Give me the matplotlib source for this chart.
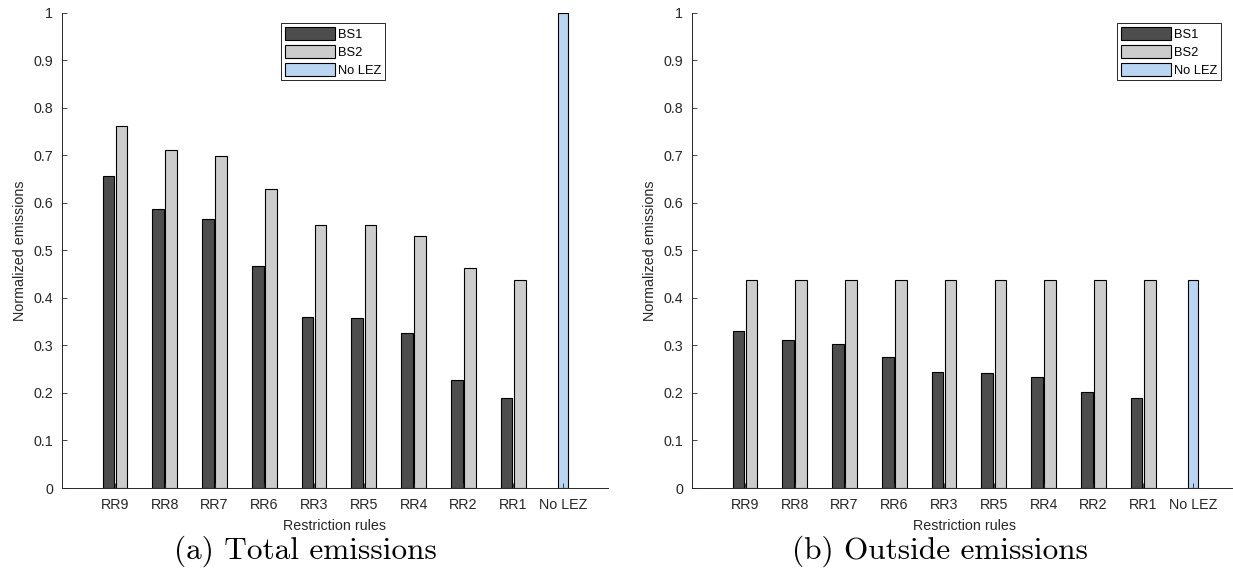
""" Normalized emissions per restriction rule, total and outside the LEZ."""
import numpy as np
import matplotlib
matplotlib.use('Agg')
import matplotlib.pyplot as plt

rules = ['RR9', 'RR8', 'RR7', 'RR6', 'RR3', 'RR5', 'RR4', 'RR2', 'RR1', 'No LEZ']

# (a) total emissions
total_bs1 = [0.657, 0.586, 0.565, 0.468, 0.360, 0.358, 0.326, 0.227, 0.190, 0.0]
total_bs2 = [0.762, 0.712, 0.698, 0.629, 0.554, 0.553, 0.530, 0.462, 0.437, 0.0]
total_nolez = [0, 0, 0, 0, 0, 0, 0, 0, 0, 1.0]

# (b) outside emissions
out_bs1 = [0.331, 0.311, 0.304, 0.276, 0.244, 0.243, 0.233, 0.202, 0.190, 0.0]
out_bs2 = [0.437, 0.437, 0.437, 0.437, 0.437, 0.437, 0.437, 0.437, 0.437, 0.0]
out_nolez = [0, 0, 0, 0, 0, 0, 0, 0, 0, 0.437]

captions = ['(a) Total emissions', '(b) Outside emissions']

C_BS1 = '#4d4d4d'
C_BS2 = '#cccccc'
C_NOLEZ = '#b9d5f2'
AX_COL = '#262626'

plt.rcParams['font.family'] = ['Liberation Sans', 'DejaVu Sans']
plt.rcParams['font.size'] = 10.3

fig = plt.figure(figsize=(12.33, 5.82), dpi=100)
W, H = 1233.0, 582.0


def draw(rect, bs1, bs2, nolez, xlim, leg_xy, caption, cap_x):
    ax = fig.add_axes(rect)
    x = np.arange(1, len(rules) + 1)
    w = 0.235
    kw = dict(edgecolor='black', linewidth=0.8)
    n = len(rules) - 1
    ax.bar(x[:n] - 0.132, bs1[:n], w, color=C_BS1, label='BS1', **kw)
    ax.bar(x[:n] + 0.132, bs2[:n], w, color=C_BS2, label='BS2', **kw)
    ax.bar(x[n:], nolez[n:], 0.2, color=C_NOLEZ, label='No LEZ', **kw)

    ax.set_xlim(*xlim)
    ax.set_ylim(0, 1)
    ax.set_yticks(np.arange(0, 1.01, 0.1))
    ax.set_yticklabels(['0'] + ['%.1f' % v for v in np.arange(0.1, 0.95, 0.1)] + ['1'])
    ax.set_xticks(x)
    ax.set_xticklabels(rules)
    ax.set_axisbelow(False)
    ax.tick_params(direction='in', length=3.6, width=0.6, colors=AX_COL,
                   labelcolor=AX_COL)
    ax.tick_params(axis='x', pad=7)
    ax.tick_params(axis='y', pad=6)
    for s in ['top', 'right']:
        ax.spines[s].set_visible(False)
    for s in ['left', 'bottom']:
        ax.spines[s].set_color(AX_COL)
        ax.spines[s].set_linewidth(0.7)
    ax.set_xlabel('Restriction rules', color=AX_COL, labelpad=5)
    ax.set_ylabel('Normalized emissions', color=AX_COL, labelpad=5)

    leg = ax.legend(loc='upper left', bbox_to_anchor=leg_xy,
                    bbox_transform=fig.transFigure, borderaxespad=0,
                    fontsize=9.3, handlelength=3.9, handleheight=1.2,
                    labelspacing=0.3, handletextpad=0.2, borderpad=0.3,
                    fancybox=False, framealpha=1, edgecolor=AX_COL)
    leg.get_frame().set_linewidth(0.7)

    fig.text(cap_x, 1 - 551 / H, caption, family='cmr10', fontsize=22.5,
             ha='center', va='center')
    return ax


draw([61.7 / W, 1 - 488 / H, 546 / W, 475.3 / H],
     total_bs1, total_bs2, total_nolez, (-0.07, 10.9),
     (281 / W, 1 - 23 / H), captions[0], 305 / W)
draw([691.7 / W, 1 - 488 / H, 546 / W, 475.3 / H],
     out_bs1, out_bs2, out_nolez, (-0.07, 10.9),
     (1117 / W, 1 - 23 / H), captions[1], 940 / W)

fig.savefig('out.png', dpi=100)
